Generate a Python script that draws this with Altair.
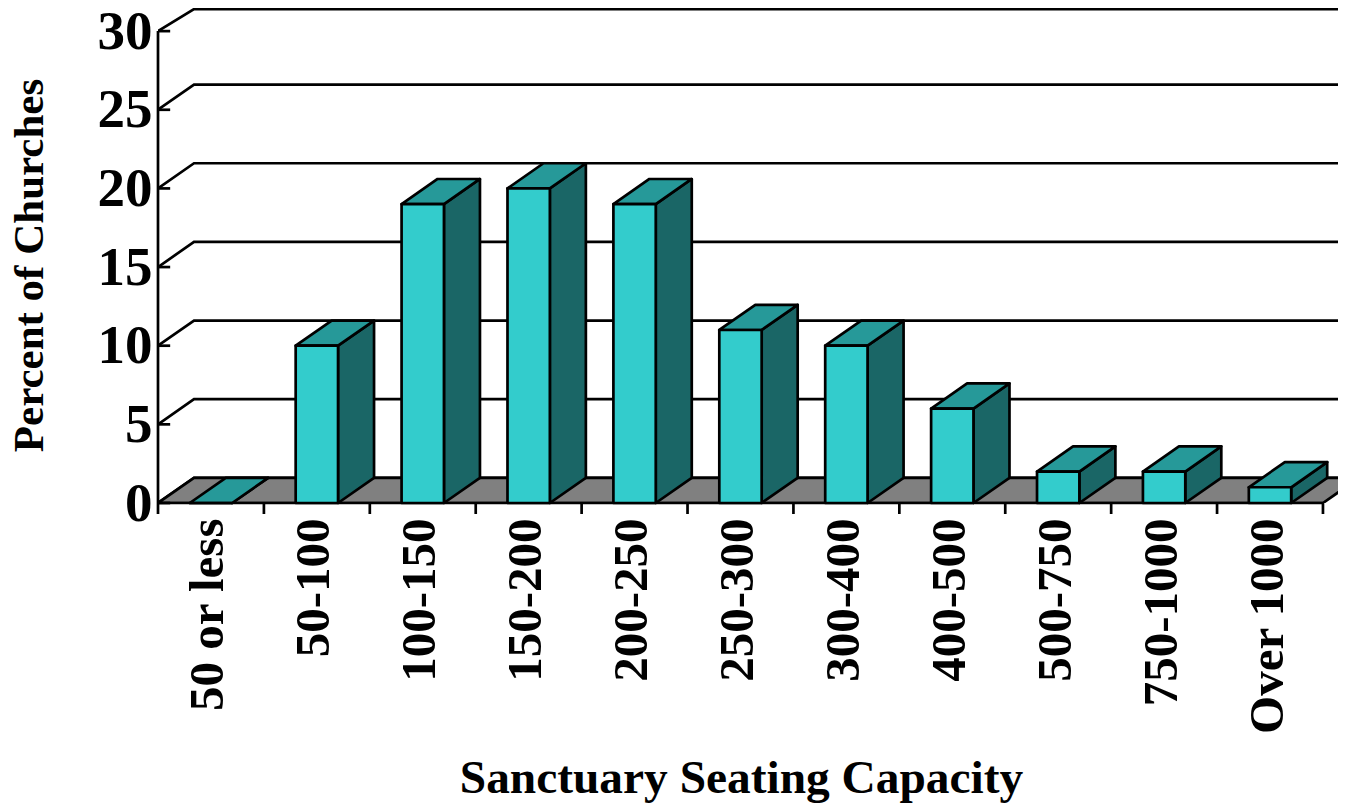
import altair as alt
import pandas as pd

categories = ["50 or less", "50-100", "100-150", "150-200", "200-250", "250-300",
              "300-400", "400-500", "500-750", "750-1000", "Over 1000"]
values = [0, 10, 19, 20, 19, 11, 10, 6, 2, 2, 1]
y_ticks = [0, 5, 10, 15, 20, 25, 30]
wall_levels = [1.6, 6.6, 11.6, 16.6, 21.6, 26.6, 31.4]

FONT = "Liberation Serif"
DX, DY = 0.34, 1.6          # depth of the pseudo-3D projection in data units
BAR_START, BAR_W = 0.30, 0.40
X_MAX = 11.142
Y_MAX = 31.47
INK = "#000000"
SW = 2.7

xs = alt.Scale(domain=[0, X_MAX], nice=False, zero=False)
ys = alt.Scale(domain=[0, Y_MAX], nice=False, zero=False)

side, top, front = [], [], []
for i, v in enumerate(values):
    x0, x1 = i + BAR_START, i + BAR_START + BAR_W
    front.append(dict(x=x0, x2=x1, y=0, y2=v))
    side += [dict(b=i, x=x1, y=0, y2=v), dict(b=i, x=x1 + DX, y=DY, y2=v + DY)]
    top += [dict(b=i, y=v, x=x0, x2=x1), dict(b=i, y=v + DY, x=x0 + DX, x2=x1 + DX)]

walls = []
for k, w in enumerate(wall_levels):
    walls += [dict(k=k, x=0, y=y_ticks[k], o=0), dict(k=k, x=DX, y=w, o=1), dict(k=k, x=X_MAX, y=w, o=2)]

floor = pd.DataFrame([dict(y=0, x=0, x2=11), dict(y=DY, x=DX, x2=11 + DX)])
y_tick_df = pd.DataFrame([dict(y=t, x=0, x2=0.115) for t in y_ticks])
x_tick_df = pd.DataFrame([dict(x=float(i)) for i in range(12)])

js_labels = "[" + ",".join(f"'{c}'" for c in categories) + "]"

y_axis = alt.Axis(values=y_ticks, domain=False, ticks=False, grid=False, labelFont=FONT,
                  labelFontWeight="bold", labelFontSize=55, labelColor=INK, labelPadding=6,
                  labelOverlap=False, labelBound=False, labelFlush=False, labelLimit=300,
                  title="Percent of Churches", titleFont=FONT, titleFontWeight="bold", titleFontSize=43,
                  titleColor=INK, titleAngle=270, titleAlign="center", titleBaseline="alphabetic",
                  titleX=-116, titleY=257, titleLimit=600)
x_axis = alt.Axis(values=[i + 0.5 for i in range(11)], domain=False, ticks=False, grid=False,
                  labelExpr=f"{js_labels}[floor(datum.value)]", labelAngle=270, labelAlign="right",
                  labelBaseline="middle", labelFont=FONT, labelFontWeight="bold", labelFontSize=49,
                  labelColor=INK, labelPadding=15, labelOffset=-3, labelOverlap=False, labelBound=False,
                  labelFlush=False, labelLimit=400,
                  title="Sanctuary Seating Capacity", titleFont=FONT, titleFontWeight="bold", titleFontSize=47.4,
                  titleColor=INK, titleAlign="center", titleBaseline="alphabetic", titleX=583, titleY=289,
                  titleLimit=900)

X = alt.X("x:Q", scale=xs, axis=x_axis)
Y = alt.Y("y:Q", scale=ys, axis=y_axis)

wall_layer = alt.Chart(pd.DataFrame(walls)).mark_line(color=INK, strokeWidth=SW, clip=True).encode(
    x=X, y=Y, detail="k:N", order="o:Q")

floor_layer = alt.Chart(floor).mark_area(orient="horizontal", color="#808080", stroke=INK,
                                         strokeWidth=SW, clip=True).encode(y=Y, x=X, x2="x2:Q")

y_line = alt.Chart(pd.DataFrame([dict(x=0, y=0, y2=30)])).mark_rule(color=INK, strokeWidth=SW).encode(
    x=X, y=Y, y2="y2:Q")
x_line = alt.Chart(pd.DataFrame([dict(x=0, x2=11, y=0)])).mark_rule(color=INK, strokeWidth=SW).encode(
    x=X, x2="x2:Q", y=Y)
y_ticks_layer = alt.Chart(y_tick_df).mark_rule(color=INK, strokeWidth=SW).encode(x=X, x2="x2:Q", y=Y)
x_ticks_layer = alt.Chart(x_tick_df).mark_rule(color=INK, strokeWidth=SW).encode(
    x=X, y=alt.value(495), y2=alt.value(506))

side_layer = alt.Chart(pd.DataFrame(side)).mark_area(color="#1A6666", stroke=INK, strokeWidth=SW,
                                                     strokeJoin="round").encode(
    x=X, y=Y, y2="y2:Q", detail="b:N")
top_layer = alt.Chart(pd.DataFrame(top)).mark_area(orient="horizontal", color="#269999", stroke=INK,
                                                   strokeWidth=SW, strokeJoin="round").encode(
    y=Y, x=X, x2="x2:Q", detail="b:N")
front_layer = alt.Chart(pd.DataFrame(front)).mark_rect(color="#33CCCC", stroke=INK, strokeWidth=SW,
                                                       strokeJoin="round").encode(
    x=X, x2="x2:Q", y=Y, y2="y2:Q")

chart = alt.layer(wall_layer, floor_layer, y_line, x_line, y_ticks_layer, x_ticks_layer,
                  side_layer, top_layer, front_layer).properties(
    width=1180, height=495,
    autosize=alt.AutoSizeParams(type="none"),
    padding={"left": 150, "top": 0, "right": 0, "bottom": 301},
).configure_view(stroke=None)

chart.save("out.html", embed_options={"renderer": "svg", "actions": False})
